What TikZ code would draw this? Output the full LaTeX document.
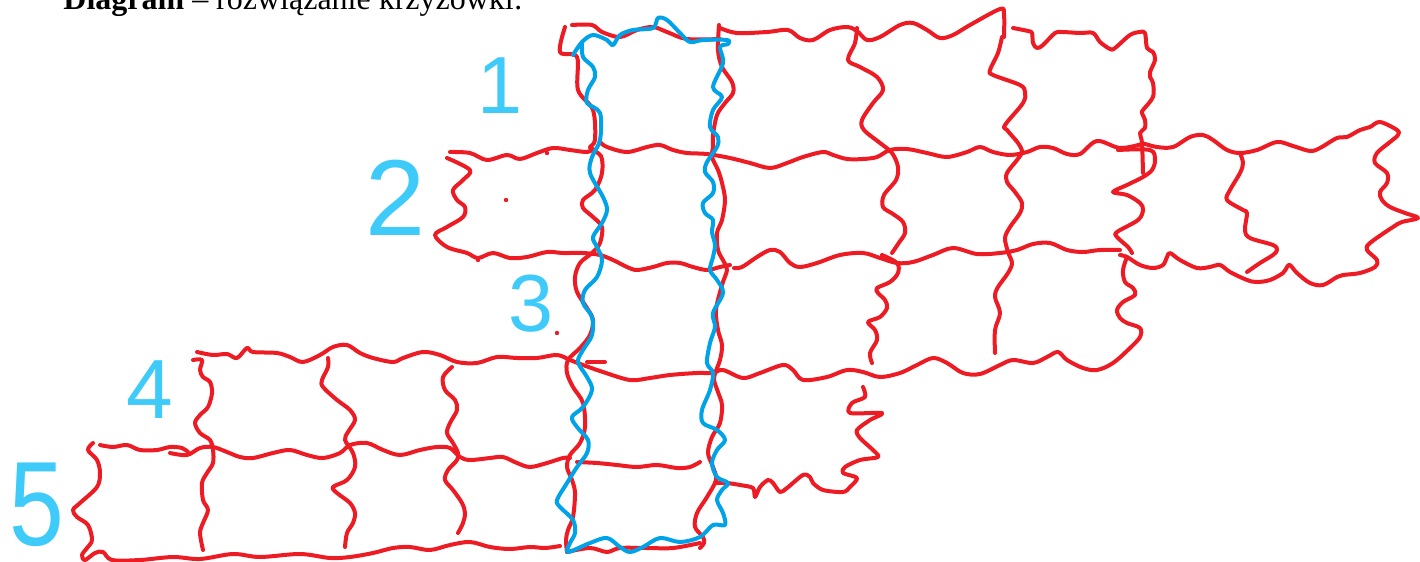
\documentclass[tikz,border=0pt]{standalone}
\usepackage{graphicx}
\usepackage{fontspec}
\setmainfont{Liberation Serif}
\newfontfamily\digitfont{Liberation Sans}
\definecolor{penred}{HTML}{ED1C24}
\definecolor{penblue}{HTML}{00A2E8}
\definecolor{penlight}{HTML}{3FCBFA}
\tikzset{
  redline/.style={draw=penred, line width=2pt, line cap=round, line join=round},
  blueline/.style={draw=penblue, line width=2pt, line cap=round, line join=round},
  lbl/.style={text=penlight, inner sep=0pt, font=\digitfont},
  reddot/.style={fill=penred, draw=none}
}
\begin{document}
\begin{tikzpicture}[x=0.5pt, y=-0.5pt]
\useasboundingbox (0,0) rectangle (1420,562);
\fill[white] (0,0) rectangle (1420,562);

% title (cut at top, as in the reference)
\node[anchor=base west, inner sep=0pt] (title) at (63,10) {\fontsize{16}{19}\selectfont\textbf{Diagram} – rozwiązanie krzyżówki:};

% ---------- red grid ----------
\draw[redline] plot[smooth, tension=0.55] coordinates {(565,27) (560,52) (577,57) (578,90) (593,110) (595,140) (590,148) (601,156) (602,173) (595,190) (583,200) (583,208) (593,217) (602,227) (600,243) (592,253) (580,263) (575,277) (577,292) (587,308) (593,320) (590,335) (580,348) (568,360) (567,373) (573,387) (583,403) (585,427) (580,443) (570,455) (567,467) (572,480) (575,493) (573,517) (568,530) (566,540) (567,552)};
\draw[redline] plot[smooth, tension=0.55] coordinates {(572,25) (592,25) (602,32) (620,37) (637,30) (653,27) (667,32) (687,39) (720,39)};
\draw[redline] plot[smooth, tension=0.55] coordinates {(720,28) (737,33) (767,32) (788,30) (800,38) (813,40) (830,30) (847,27) (857,31) (867,40) (880,37) (900,25) (913,23) (927,30) (940,38) (953,35) (970,25) (1000,9) (1004,14) (1004,37)};
\draw[redline] plot[smooth, tension=0.55] coordinates {(719,25) (718,50) (722,67) (732,82) (733,93) (725,103) (717,115) (713,135) (713,147) (712,157) (718,170) (722,183) (725,200) (722,220) (717,233) (718,250) (724,262) (727,270) (722,285) (716,310) (718,330) (722,345) (720,360) (714,378) (718,392) (722,405) (720,423) (712,437) (708,453) (713,467) (716,480) (707,497) (697,513) (695,527) (703,537) (704,543) (700,548)};
\draw[redline] plot[smooth, tension=0.55] coordinates {(857,28) (855,43) (848,60) (860,67) (877,77) (883,90) (873,103) (862,120) (864,130) (880,143) (892,153) (898,167) (896,180) (884,195) (883,207) (893,214) (903,222) (905,233) (898,244) (892,253)};
\draw[redline] plot[smooth, tension=0.55] coordinates {(1002,37) (998,53) (990,70) (993,75) (1020,85) (1025,92) (1023,103) (1005,125) (1007,130) (1018,143) (1022,152) (1017,160) (1007,173) (1007,182) (1015,192) (1022,203) (1020,213) (1010,227) (1005,238) (1008,252) (1012,263) (1008,273) (998,287) (995,297) (1000,313) (995,330) (995,353)};
\draw[redline] plot[smooth, tension=0.55] coordinates {(1013,28) (1028,31) (1032,33) (1033,43) (1037,48) (1043,45) (1055,33) (1062,32) (1080,33) (1093,33) (1100,42) (1110,49) (1115,48) (1130,35) (1140,32) (1145,33) (1147,48) (1153,52) (1155,60) (1150,72) (1150,77) (1153,83) (1153,97) (1143,110) (1142,113) (1145,120) (1145,128) (1140,133) (1142,143) (1143,173)};
\draw[redline] plot[smooth, tension=0.55] coordinates {(450,152) (470,153) (487,160) (507,155) (520,159) (537,153) (553,148) (570,150) (587,152) (593,149)};
\draw[redline] plot[smooth, tension=0.55] coordinates {(600,142) (607,147) (627,152) (647,147) (660,145) (673,150) (687,153) (707,154) (730,158) (750,163) (770,168) (787,163) (803,157) (823,152) (833,155) (847,159) (863,159) (877,157) (890,150) (907,149) (927,153) (947,157) (967,152) (980,147) (993,152) (1010,155) (1027,152) (1040,147) (1053,148) (1067,154) (1080,154) (1097,141) (1120,148) (1142,144)};
\draw[redline] plot[smooth, tension=0.55] coordinates {(1142,143) (1157,147) (1173,147) (1190,137) (1203,135) (1213,140) (1227,150) (1240,153) (1257,150) (1277,142) (1293,146) (1310,151) (1320,148) (1337,138) (1347,137) (1360,130) (1370,127) (1380,122) (1397,130) (1398,135) (1390,142) (1377,153) (1375,163) (1387,173) (1387,183) (1380,192) (1382,200) (1390,207) (1405,213) (1418,218) (1402,222) (1393,227) (1370,243) (1367,250) (1377,260) (1375,267) (1360,273) (1343,275) (1337,277) (1323,285) (1310,283) (1297,273) (1290,265) (1287,267) (1283,273) (1270,280) (1257,282) (1247,280) (1230,272) (1220,265) (1210,267) (1197,268) (1180,260) (1170,253) (1167,257) (1163,265) (1153,268) (1140,265) (1127,257) (1120,255)};
\draw[redline] plot[smooth, tension=0.55] coordinates {(1240,153) (1243,163) (1240,173) (1230,190) (1227,200) (1243,210) (1247,213) (1245,230) (1250,238) (1273,245) (1277,250) (1273,255) (1260,263) (1247,272)};
\draw[redline] plot[smooth, tension=0.55] coordinates {(1118,150) (1150,150) (1155,160) (1152,170) (1143,177) (1127,185) (1113,192) (1127,195) (1140,203) (1143,210) (1138,220) (1117,232) (1117,237) (1128,247) (1132,253)};
\draw[redline] plot[smooth, tension=0.55] coordinates {(447,158) (470,170) (463,180) (453,190) (457,200) (465,207) (463,217) (447,227) (435,235) (447,247) (467,253) (478,258) (493,253) (510,258) (527,257) (547,252) (563,253) (583,253) (600,255) (613,260) (627,267) (637,270) (653,267) (667,263) (680,263) (693,267) (707,270) (720,267) (730,265)};
\draw[redline] plot[smooth, tension=0.55] coordinates {(734,268) (742,267) (757,257) (770,250) (780,252) (790,263) (800,267) (817,263) (840,255) (863,253) (880,258) (897,263) (913,262) (933,255) (953,248) (977,254) (1000,253) (1017,250) (1033,244) (1050,243) (1067,250) (1083,252) (1100,250) (1120,250)};
\draw[redline] plot[smooth, tension=0.55] coordinates {(882,255) (897,263) (898,273) (890,282) (877,288) (878,293) (885,300) (887,308) (880,317) (868,322) (875,330) (877,340) (870,353) (872,363)};
\draw[redline] plot[smooth, tension=0.55] coordinates {(197,352) (213,355) (227,354) (237,358) (247,348) (253,352) (277,353) (290,357) (303,362) (320,355) (333,347) (347,345) (360,353) (373,358) (393,362) (403,358) (423,352) (440,355) (457,362) (477,363) (497,357) (517,358) (537,358) (557,355) (570,360) (583,365) (603,372) (630,380) (650,378) (670,375) (697,373) (713,373) (723,370) (743,378) (760,373) (783,365) (793,370) (803,380) (827,377) (847,370) (863,372) (880,377) (900,373) (917,365) (933,358) (947,363) (963,373) (980,374) (1000,365) (1013,360) (1033,363) (1047,357) (1058,352) (1067,360) (1083,368) (1097,370) (1113,363) (1130,348) (1140,337) (1140,328) (1127,323) (1120,318) (1117,310) (1123,302) (1135,295) (1133,288) (1125,282) (1123,270) (1127,257)};
\draw[redline] (587,362) -- (605,362);
\draw[redline] plot[smooth, tension=0.55] coordinates {(193,360) (202,360) (200,370) (203,377) (210,382) (212,393) (208,407) (200,415) (195,423) (200,433) (210,440) (213,450) (213,463) (207,473) (202,483) (203,500) (208,510) (203,523) (200,533) (203,550)};
\draw[redline] plot[smooth, tension=0.55] coordinates {(328,358) (328,367) (322,380) (323,387) (337,400) (350,410) (355,420) (348,432) (345,440) (353,453) (355,467) (347,480) (333,487) (337,493) (350,503) (355,513) (353,523) (347,533) (345,547)};
\draw[redline] plot[smooth, tension=0.55] coordinates {(452,367) (443,377) (445,390) (455,400) (457,410) (450,423) (447,433) (453,443) (458,453) (457,460) (448,470) (445,480) (453,490) (462,503) (465,513) (463,523) (458,533)};
\draw[redline] plot[smooth, tension=0.55] coordinates {(170,453) (187,455) (200,448) (213,447) (227,452) (240,457) (253,458) (273,453) (290,450) (307,455) (323,458) (340,453) (350,445) (367,443) (383,450) (400,455) (420,450) (437,447) (450,448) (460,457) (470,460) (490,458) (503,457) (517,463) (530,467) (547,463) (563,458) (570,458)};
\draw[redline] plot[smooth, tension=0.55] coordinates {(577,462) (597,463) (617,465) (637,467) (657,465) (677,468) (690,467) (700,462)};
\draw[redline] plot[smooth, tension=0.55] coordinates {(100,445) (113,447) (127,445) (140,450) (157,450) (170,447) (182,448) (188,452)};
\draw[redline] plot[smooth, tension=0.55] coordinates {(93,443) (88,450) (97,460) (100,473) (97,487) (80,503) (73,510) (77,517) (88,525) (92,540) (87,548) (82,555) (85,560) (95,553) (103,552) (112,560) (140,560) (173,557) (200,559) (233,554) (260,557) (300,554) (330,558) (350,557) (373,553) (393,548) (410,547) (430,550) (450,545) (470,542) (490,547) (510,549) (530,547) (545,548) (560,546)};
\draw[redline] plot[smooth, tension=0.55] coordinates {(567,552) (590,548) (607,552) (620,548) (647,548) (673,548) (700,543)};
\draw[redline] plot[smooth, tension=0.5] coordinates {(863,387) (865,397) (852,403) (850,413) (882,413) (870,420) (857,430) (860,438) (873,450) (878,457) (860,460) (845,467) (843,473) (857,478) (850,487) (843,492) (823,490) (813,483) (810,477) (803,475) (787,488) (780,492) (773,483) (768,480) (760,487) (755,497) (753,488) (740,485) (727,483) (715,483)};
\fill[reddot] (506,200) circle (2.2);
\fill[reddot] (547,153) circle (2.2);
\fill[reddot] (478,260) circle (2.2);
\fill[reddot] (557,333) circle (2.2);

% ---------- blue solution column ----------
\draw[blueline] plot[smooth, tension=0.55] coordinates {(573,55) (582,42) (593,35) (607,40) (613,45) (620,35) (633,30) (653,28) (658,18) (667,20) (680,33) (690,42) (703,40) (727,40) (728,44) (720,47) (723,63) (713,87) (722,97) (713,110) (710,127) (718,137) (717,147) (707,162) (705,172) (713,182) (713,193) (703,203) (705,213) (713,220) (712,232) (715,245) (713,257) (710,270) (717,280) (723,293) (713,313) (715,327) (710,343) (707,363) (713,373) (710,390) (702,410) (703,423) (717,430) (725,440) (717,450) (712,463) (717,477) (728,483) (722,490) (717,500) (723,513) (725,525) (713,525) (700,537) (680,542) (660,538) (643,547) (630,552) (620,547) (607,538) (590,543) (568,552) (570,543) (575,533) (573,520) (560,507) (557,500) (567,483) (577,467) (587,453) (588,440) (577,427) (572,417) (583,407) (592,390) (587,377) (578,362) (583,350) (592,335) (592,317) (583,303) (585,290) (597,277) (602,260) (597,247) (593,237) (602,223) (607,210) (603,197) (590,173) (592,157) (600,140) (600,113) (587,103) (588,90) (595,77) (593,67) (583,57) (582,44)};

% ---------- labels ----------
\node[lbl, font=\digitfont\fontsize{40.5}{40}\selectfont] (n1) at (500,86) {1};
\node[lbl, font=\digitfont\fontsize{54}{54}\selectfont] (n2) at (396,198) {2};
\node[lbl, font=\digitfont\fontsize{40.5}{40}\selectfont] (n3) at (531,304) {3};
\node[lbl, font=\digitfont\fontsize{42}{42}\selectfont] (n4) at (150,390) {4};
\node[lbl, font=\digitfont\fontsize{60}{60}\selectfont] (n5) at (37,505) {\scalebox{0.82}[1]{5}};
\end{tikzpicture}
\end{document}
